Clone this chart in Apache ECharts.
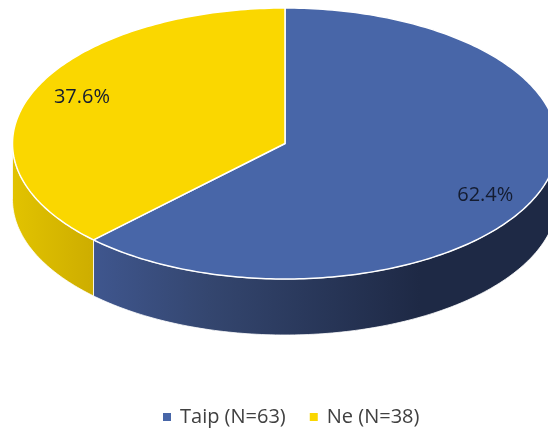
<!DOCTYPE html>
<html>
<head>
<meta charset="utf-8">
<style>
  html, body { margin: 0; padding: 0; background: #fff; }
  #main { width: 548px; height: 432px; }
</style>
<script src="https://cdn.jsdelivr.net/npm/echarts@6/dist/echarts.min.js"></script>
</head>
<body>
<div id="main"></div>
<script>
var categories = ['Taip (N=63)', 'Ne (N=38)'];
var shares = [62.4, 37.6];
var colors = ['#4866a8', '#fad700'];

// ECharts has no tilted pie, so the disc is squashed by hand in renderItem
var cx = 285, cy = 143.5, rx = 272.5, ry = 135.5, depth = 56;
var fontName = '"Open Sans", "Noto Sans", sans-serif';

var sideFills = [
  { type: 'linear', global: true, x: 94, y: 0, x2: 420, y2: 0, colorStops: [
    { offset: 0, color: '#3f568e' },
    { offset: 0.35, color: '#34466f' },
    { offset: 1, color: '#1e2945' }
  ] },
  { type: 'linear', global: true, x: 12, y: 0, x2: 94, y2: 0, colorStops: [
    { offset: 0, color: '#e2c300' },
    { offset: 1, color: '#cdad00' }
  ] }
];

function rimPoint(deg, drop) {
  var a = deg * Math.PI / 180;
  return [cx + rx * Math.sin(a), cy - ry * Math.cos(a) + (drop || 0)];
}

function arcPoints(from, to, drop) {
  var pts = [];
  for (var d = from; d < to; d += 1) {
    pts.push(rimPoint(d, drop));
  }
  pts.push(rimPoint(to, drop));
  return pts;
}

function sliceItem(index) {
  return function () {
    var before = 0;
    for (var i = 0; i < index; i++) before += shares[i];
    var from = before * 3.6;
    var to = (before + shares[index]) * 3.6;
    var mid = (from + to) / 2 * Math.PI / 180;
    var children = [];

    // only the front half of the rim shows a wall
    var wallFrom = Math.max(from, 90), wallTo = Math.min(to, 270);
    if (wallFrom < wallTo) {
      children.push({
        type: 'polygon',
        shape: { points: arcPoints(wallFrom, wallTo, 0).concat(arcPoints(wallFrom, wallTo, depth).reverse()) },
        style: { fill: sideFills[index], stroke: '#ffffff', lineWidth: 0.8 }
      });
    }
    children.push({
      type: 'polygon',
      shape: { points: [[cx, cy]].concat(arcPoints(from, to, 0)) },
      style: { fill: colors[index], stroke: '#ffffff', lineWidth: 1.5, lineJoin: 'round' }
    });
    children.push({
      type: 'text',
      style: {
        x: cx + rx * 0.80 * Math.sin(mid) - 1.4,
        y: cy - ry * 0.95 * Math.cos(mid) + 3,
        text: shares[index].toFixed(1) + '%',
        fill: '#141c30',
        font: '20px ' + fontName,
        align: 'center',
        verticalAlign: 'middle'
      }
    });
    return { type: 'group', children: children };
  };
}

var myChart = echarts.init(document.getElementById('main'), null, { renderer: 'canvas' });
var option = {
  animation: false,
  backgroundColor: '#ffffff',
  legend: {
    data: categories,
    left: 158,
    top: 402,
    icon: 'rect',
    itemWidth: 8,
    itemHeight: 8,
    itemGap: 24,
    textStyle: { fontFamily: fontName, fontSize: 20, color: '#404040', padding: [0, 0, 0, 4] }
  },
  series: categories.map(function (name, i) {
    return {
      type: 'custom',
      name: name,
      coordinateSystem: 'none',
      silent: true,
      itemStyle: { color: colors[i] },
      data: [shares[i]],
      renderItem: sliceItem(i)
    };
  })
};
myChart.setOption(option);
</script>
</body>
</html>
